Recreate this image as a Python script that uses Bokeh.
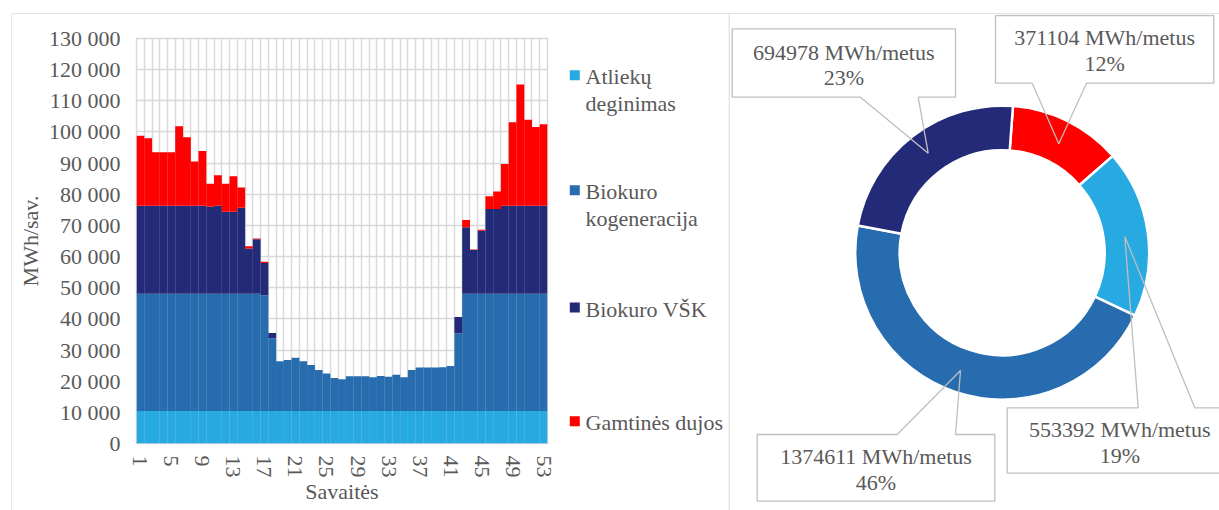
import math
from bokeh.plotting import figure
from bokeh.models import Range1d, FixedTicker, ColumnDataSource
from bokeh.layouts import row, column
from bokeh.core.properties import value
from bokeh.embed import file_html
from bokeh.resources import INLINE

# ---------------- data ----------------
weeks = list(range(1, 54))

atl = [10441, 10441, 10441, 10441, 10441, 10441, 10441, 10441, 10441, 10441,
       10441, 10441, 10441, 10441, 10441, 10441, 10441, 10441, 10441, 10441,
       10441, 10441, 10441, 10441, 10441, 10441, 10441, 10441, 10441, 10441,
       10441, 10441, 10441, 10441, 10441, 10441, 10441, 10441, 10441, 10441,
       10441, 10441, 10441, 10441, 10441, 10441, 10441, 10441, 10441, 10441,
       10441, 10441, 10441]

kogen = [37660, 37660, 37660, 37660, 37660, 37660, 37660, 37660, 37660, 37660,
         37660, 37660, 37660, 37660, 37660, 37660, 37160, 23360, 15960, 16360,
         17060, 15960, 14760, 13160, 12060, 10560, 10160, 11160, 11160, 11160,
         10860, 11260, 10960, 11660, 10860, 13160, 13960, 13960, 13960, 14060,
         14460, 24960, 37660, 37660, 37660, 37660, 37660, 37660, 37660, 37660,
         37660, 37660, 37660]

vsk = [28200, 28200, 28200, 28200, 28200, 28200, 28200, 28200, 28200, 27900,
       28200, 26300, 26300, 27600, 14500, 17500, 10300, 1700, 0, 0,
       0, 0, 0, 0, 0, 0, 0, 0, 0, 0,
       0, 0, 0, 0, 0, 0, 0, 0, 0, 0,
       0, 5200, 21300, 14000, 20200, 27200, 27200, 28200, 28200, 28200,
       28200, 28200, 28200]

gas = [22500, 21700, 17200, 17200, 17200, 25500, 22000, 14200, 17600, 7400,
       9800, 9000, 11400, 6500, 700, 200, 400, 0, 0, 0,
       0, 0, 0, 0, 0, 0, 0, 0, 0, 0,
       0, 0, 0, 0, 0, 0, 0, 0, 0, 0,
       0, 0, 2300, 200, 300, 4100, 5600, 13400, 26800, 38900,
       27600, 25300, 26200]

series_keys = ["atl", "kogen", "vsk", "gas"]
series_names = ["Atliekų deginimas", "Biokuro kogeneracija", "Biokuro VŠK", "Gamtinės dujos"]
legend_lines = [["Atliekų", "deginimas"], ["Biokuro", "kogeneracija"], ["Biokuro VŠK"], ["Gamtinės dujos"]]

x_ticks = [1, 5, 9, 13, 17, 21, 25, 29, 33, 37, 41, 45, 49, 53]
y_ticks = [0, 10000, 20000, 30000, 40000, 50000, 60000, 70000, 80000, 90000,
           100000, 110000, 120000, 130000]

# donut (annual), order clockwise from top
pie_keys = ["gas", "atl", "kogen", "vsk"]
annual = [371104, 553392, 1374611, 694978]
annual_pct = [12, 19, 46, 23]

# ---------------- style ----------------
FONT = "Liberation Serif"
TXT = "#595959"
GRID = "#D9D9D9"
COL = {"atl": "#27AAE1", "kogen": "#266CAE", "vsk": "#232B78", "gas": "#FF0000"}
FS = "22px"
H = 510   # page-pixel y of the layout bottom
T0 = 14   # height of the top border strip


def blank(w, h, xr, yr):
    f = figure(width=w, height=h, x_range=Range1d(*xr), y_range=Range1d(*yr),
               x_axis_type=None, y_axis_type=None, output_backend="svg",
               toolbar_location=None, min_border=0, frame_align=False)
    f.outline_line_color = None
    f.grid.visible = False
    f.background_fill_color = "white"
    f.border_fill_color = "white"
    return f


def Y(v):
    return H - v


# ---------------- left bar chart (page x 12..560, y 14..510) ----------------
src = ColumnDataSource(dict(week=weeks, atl=atl, kogen=kogen, vsk=vsk, gas=gas))

p = figure(width=548, height=H - T0, x_range=Range1d(0.5, 53.5), y_range=Range1d(0, 130000),
           output_backend="svg", toolbar_location=None, frame_align=False,
           min_border_left=124, min_border_right=13, min_border_top=24, min_border_bottom=67)
p.vbar_stack(series_keys, x="week", width=1.01, source=src,
             fill_color=[COL[k] for k in series_keys], line_alpha=0)

p.outline_line_color = GRID
p.outline_line_width = 1.5
p.background_fill_color = "white"
p.border_fill_color = "white"

p.xgrid.ticker = FixedTicker(ticks=[w - 0.5 for w in weeks] + [weeks[-1] + 0.5])
p.ygrid.ticker = FixedTicker(ticks=y_ticks)
p.grid.grid_line_color = GRID
p.grid.grid_line_width = 1.5

p.yaxis.ticker = FixedTicker(ticks=y_ticks)
p.yaxis.major_label_overrides = {t: f"{t:,}".replace(",", " ") for t in y_ticks}
p.xaxis.ticker = FixedTicker(ticks=x_ticks)
p.xaxis.major_label_orientation = "vertical"
for ax in (p.xaxis[0], p.yaxis[0]):
    ax.axis_line_color = None
    ax.major_tick_line_color = None
    ax.minor_tick_line_color = None
    ax.major_tick_out = 0
    ax.major_tick_in = 0
    ax.major_label_text_font = FONT
    ax.major_label_text_font_size = FS
    ax.major_label_text_color = TXT
    ax.axis_label_text_font = FONT
    ax.axis_label_text_font_size = FS
    ax.axis_label_text_font_style = "normal"
    ax.axis_label_text_color = TXT
p.yaxis.axis_label = "MWh/sav."
p.yaxis.major_label_standoff = 16
p.yaxis.axis_label_standoff = 3
p.xaxis.axis_label = "Savaitės"
p.xaxis.major_label_standoff = 12
p.xaxis.axis_label_standoff = -2

# ---------------- panel border strips ----------------
top = blank(1219, T0, (0, 1219), (T0, 0))
top.segment(x0=[11.5, 11.5, 728.5], y0=[13.5, 13.5, 13.5], x1=[1219, 11.5, 728.5], y1=[13.5, T0, T0],
            line_color=GRID, line_width=1.3)
lefts = blank(12, H - T0, (0, 12), (H, T0))
lefts.segment(x0=[11.5], y0=[T0], x1=[11.5], y1=[H], line_color=GRID, line_width=1.3)

# ---------------- legend panel (page x 560..728) ----------------
lg = blank(168, H - T0, (560, 728), (0, H - T0))
mark_y = [74.7, 189.7, 307.0, 420.8]
lg.rect(x=[574.3] * 4, y=[Y(m) for m in mark_y], width=10, height=10,
        fill_color=[COL[k] for k in series_keys], line_color=None)
lx, ly, lt = [], [], []
for yy, lines in zip(mark_y, legend_lines):
    for j, t in enumerate(lines):
        lx.append(585)
        ly.append(Y(yy + 1.5 + j * 26.6))
        lt.append(t)
lg.text(x=lx, y=ly, text=lt, text_font=value(FONT), text_font_size=FS,
        text_color=TXT, text_align="left", text_baseline="middle")

# ---------------- donut panel (page x 728..1219) ----------------
dn = blank(491, H - T0, (728, 1219), (0, H - T0))
cx, cy = 1001.7, 252.2
total = sum(annual)
off = math.radians(4.2)
starts, ends, cum = [], [], 0
for v in annual:
    starts.append(math.pi / 2 - off - 2 * math.pi * cum / total)
    cum += v
    ends.append(math.pi / 2 - off - 2 * math.pi * cum / total)
dn.annular_wedge(x=cx, y=Y(cy), inner_radius=102.5, outer_radius=147,
                 inner_radius_units="screen", outer_radius_units="screen",
                 start_angle=starts, end_angle=ends, direction="clock",
                 fill_color=[COL[k] for k in pie_keys], line_color="white", line_width=2.5)

# callout boxes: (x0, x1, ytop, ybot, base1, base2, tipx, tipy, side, textx, line1y, line2y)
callouts = {
    "gas": (995, 1213.3, 15, 82.7, 1031.7, 1086, 1058.3, 143.3, "bottom", 1104.2, 36.7, 62.7),
    "atl": (1006.7, 1232, 407.3, 472.7, 1137.7, 1194.3, 1124.3, 236, "top", 1119.3, 429, 455),
    "kogen": (756.7, 994.3, 434, 500.7, 896.7, 955, 960, 370, "top", 875.5, 456, 481.7),
    "vsk": (731.7, 955, 28.3, 96.7, 860, 917.7, 927.7, 152.7, "bottom", 843.3, 51.7, 77.3),
}
qs = dict(l=[], r=[], t=[], b=[])
xs, ys = [], []
tx, ty, tt = [], [], []
for k, v, pc in zip(pie_keys, annual, annual_pct):
    x0, x1, yt, yb, b1, b2, px, py, side, txc, l1, l2 = callouts[k]
    qs["l"].append(x0); qs["r"].append(x1); qs["t"].append(Y(yt)); qs["b"].append(Y(yb))
    if side == "bottom":
        pts = [(x0, yt), (x1, yt), (x1, yb), (b2, yb), (px, py), (b1, yb), (x0, yb), (x0, yt)]
    else:
        pts = [(x0, yb), (x1, yb), (x1, yt), (b2, yt), (px, py), (b1, yt), (x0, yt), (x0, yb)]
    xs.append([a for a, _ in pts])
    ys.append([Y(b) for _, b in pts])
    tx += [txc, txc]
    ty += [Y(l1), Y(l2)]
    tt += [f"{v} MWh/metus", f"{pc}%"]

dn.segment(x0=[728.5], y0=[Y(T0)], x1=[728.5], y1=[Y(H)], line_color=GRID, line_width=1.3)
dn.quad(left=qs["l"], right=qs["r"], top=qs["t"], bottom=qs["b"], fill_color="white", line_color=None)
dn.multi_line(xs=xs, ys=ys, line_color="#BFBFBF", line_width=1.3)
dn.text(x=tx, y=ty, text=tt, text_font=value(FONT), text_font_size=FS,
        text_color=TXT, text_align="center", text_baseline="middle")

layout = column(top, row(lefts, p, lg, dn))
open("out.html", "w").write(file_html(layout, INLINE))
